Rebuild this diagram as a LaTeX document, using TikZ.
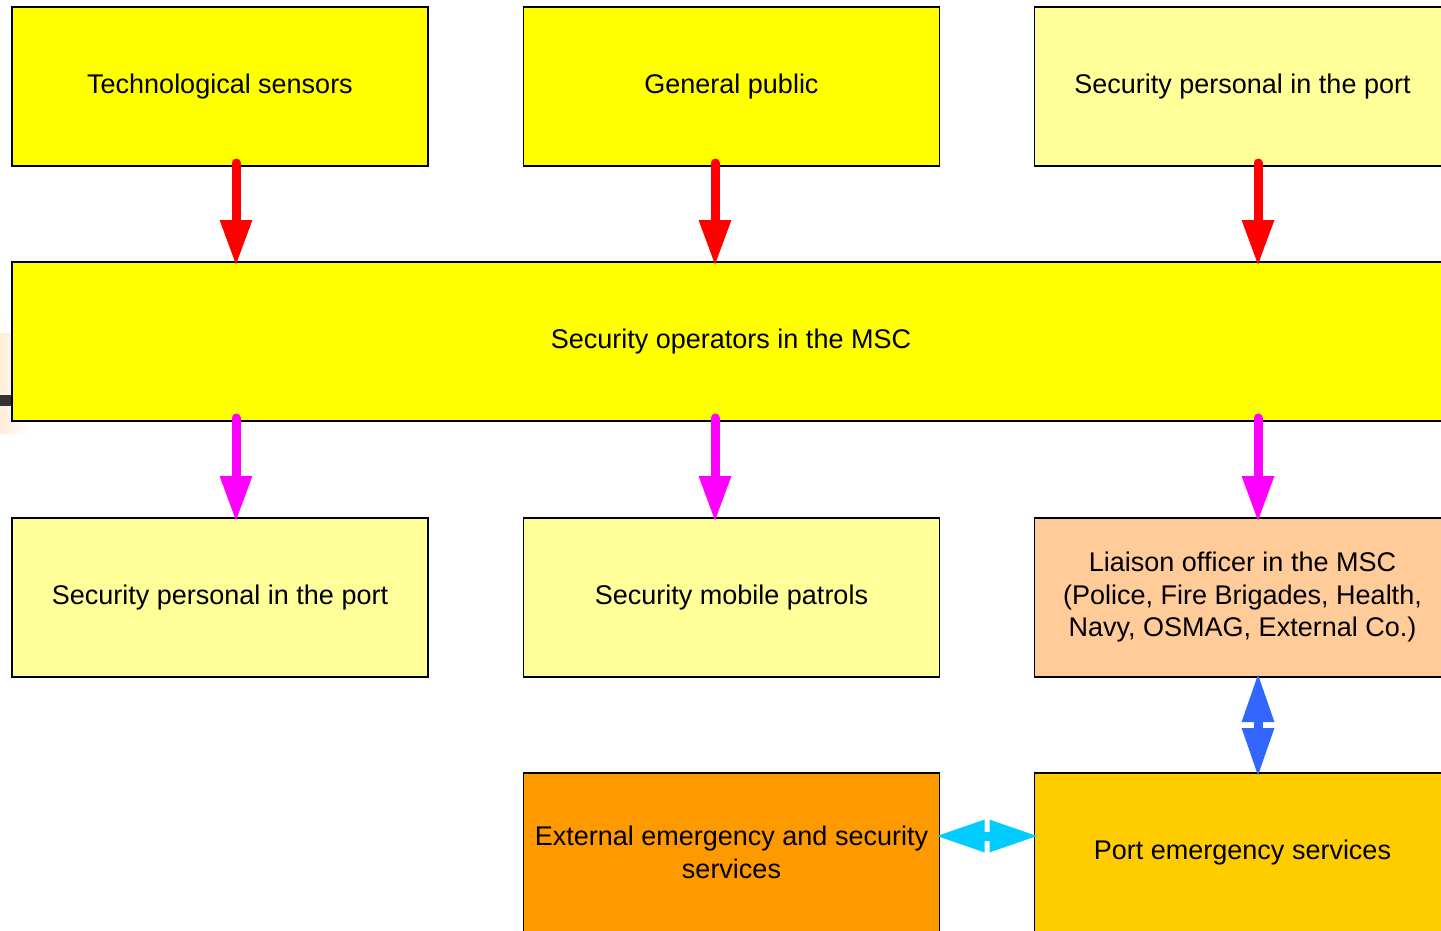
\documentclass[tikz,border=0pt]{standalone}
\usepackage{fontspec}
\setmainfont{Liberation Sans}
\usetikzlibrary{arrows.meta,positioning}
\definecolor{boxyellow}{HTML}{FFFF00}
\definecolor{paleyellow}{HTML}{FFFF99}
\definecolor{peach}{HTML}{FFCC99}
\definecolor{deeporange}{HTML}{FF9900}
\definecolor{gold}{HTML}{FFCC00}
\definecolor{arrowred}{HTML}{FF0000}
\definecolor{arrowpink}{HTML}{FF00FF}
\definecolor{arrowblue}{HTML}{3366FF}
\definecolor{arrowcyan}{HTML}{00CCFF}
\begin{document}
\begin{tikzpicture}[x=1pt,y=-1pt,
  box/.style={draw,line width=1.5pt,minimum width=416pt,minimum height=159pt,
    inner sep=0pt,outer sep=0pt,align=center,font=\fontsize{27}{32.5}\selectfont},
  flow/.style={line width=9pt,line cap=round,shorten >=-4pt,-{Triangle[width=30pt,length=46pt]}},
  link/.style={line width=9pt,shorten >=-4pt,shorten <=-4pt,{Triangle[width=30pt,length=49pt]}-{Triangle[width=30pt,length=49pt]}}]
\useasboundingbox (0,0) rectangle (1441,930);
% scrap of a shape cut off at the left
\shade[left color=orange!15,right color=white] (0,333) rectangle (30,433);
\fill[black!80] (0,395) rectangle (12,406);

\node[box,fill=boxyellow] (sensors) at (220,86.5) {Technological sensors};
\node[box,fill=boxyellow] (public) at (731.5,86.5) {General public};
\node[box,fill=paleyellow] (portstaff) at (1242.5,86.5) {Security personal in the port};
\node[box,fill=boxyellow,minimum width=1438pt] (msc) at (731,341.5) {Security operators in the MSC};
\node[box,fill=paleyellow] (staff) at (220,597.5) {Security personal in the port};
\node[box,fill=paleyellow] (patrols) at (731.5,597.5) {Security mobile patrols};
\node[box,fill=peach] (liaison) at (1242.5,597.5) {Liaison officer in the MSC\\(Police, Fire Brigades, Health,\\Navy, OSMAG, External Co.)};
\node[box,fill=deeporange] (external) at (731.5,852.5) {External emergency and security\\services};
\node[box,fill=gold] (emergency) at (1242.5,852.5) {Port emergency services};

\draw[flow,arrowred]([xshift=16pt,yshift=3pt]sensors.south)--([xshift=16pt]sensors.south|-msc.north);
\draw[flow,arrowred]([xshift=-16.5pt,yshift=3pt]public.south)--([xshift=-16.5pt]public.south|-msc.north);
\draw[flow,arrowred]([xshift=15.5pt,yshift=3pt]portstaff.south)--([xshift=15.5pt]portstaff.south|-msc.north);

\draw[flow,arrowpink]([yshift=3pt]msc.south-|236,0)--([xshift=16pt]staff.north);
\draw[flow,arrowpink]([yshift=3pt]msc.south-|715,0)--([xshift=-16.5pt]patrols.north);
\draw[flow,arrowpink]([yshift=3pt]msc.south-|1258,0)--([xshift=15.5pt]liaison.north);

\draw[link,arrowblue]([xshift=15.5pt]liaison.south)--([xshift=15.5pt]emergency.north);
\draw[link,arrowcyan]([yshift=16.5pt]external.east)--([yshift=16.5pt]emergency.west);
\end{tikzpicture}
\end{document}
